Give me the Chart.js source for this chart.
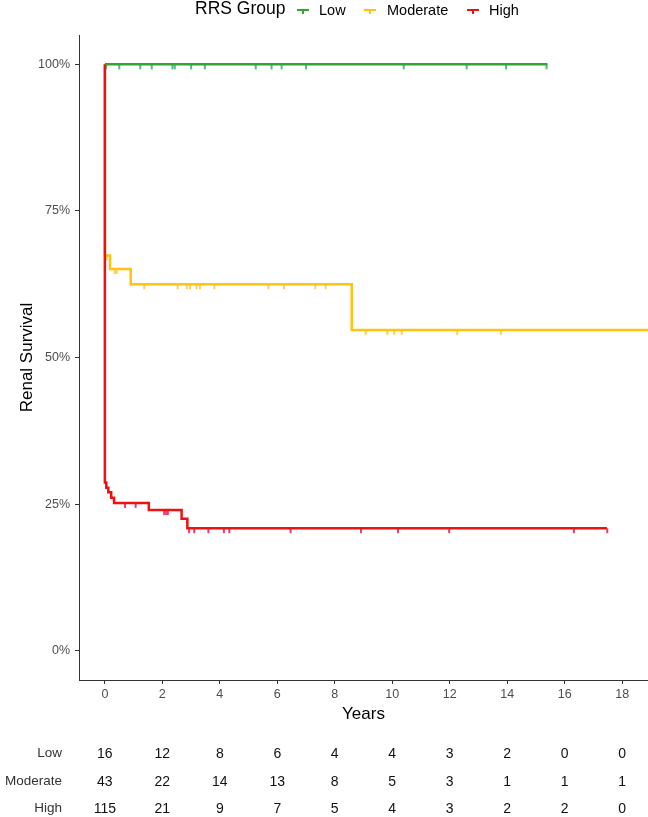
<!DOCTYPE html>
<html>
<head>
<meta charset="utf-8">
<script src="https://cdn.jsdelivr.net/npm/chart.js@4.4.1/dist/chart.umd.min.js"></script>
<style>
html, body { margin: 0; padding: 0; background: #fff; overflow: hidden; }
#wrap { position: relative; width: 648px; height: 817px; overflow: hidden; font-family: "Liberation Sans", Arial, sans-serif; }
#chart { position: absolute; left: 0; top: 0; }
.lg { position: absolute; white-space: nowrap; line-height: 1; transform: translateY(-50%); color: #000; }
.sym { position: absolute; width: 12px; height: 2px; }
.sym i { position: absolute; left: 5px; top: 2px; width: 2px; height: 3px; }
.cell { position: absolute; white-space: nowrap; line-height: 1; transform: translate(-50%, -50%); font-size: 14px; color: #111; }
.rowlab { position: absolute; white-space: nowrap; line-height: 1; transform: translateY(-50%); font-size: 13.5px; color: #333; text-align: right; }
</style>
</head>
<body>
<div id="wrap">
  <canvas id="chart" width="653" height="817"></canvas>
</div>
<script>
// ---------------- data ----------------
const groups = ['Low', 'Moderate', 'High'];
const groupColors = ['#33A532', '#FFC20E', '#EE1111'];
const censorColors = ['rgba(70,185,130,0.95)', 'rgba(255,205,80,0.95)', 'rgba(240,50,100,0.95)'];

const years = [0, 2, 4, 6, 8, 10, 12, 14, 16, 18];
const yTicks = [0, 0.25, 0.5, 0.75, 1];

// KM step curves (time, survival after event)
const lowTimes = [0, 15.4];
const lowSurv  = [1, 1];
const modTimes = [0, 0, 0.18, 0.9, 8.59, 18.9];
const modSurv  = [1, 0.674, 0.651, 0.625, 0.547, 0.547];
const highTimes = [0, 0, 0.05, 0.12, 0.22, 0.32, 1.53, 2.67, 2.87, 17.47];
const highSurv  = [1, 0.287, 0.278, 0.270, 0.261, 0.252, 0.240, 0.225, 0.209, 0.209];

// censoring times
const lowCensor = [0.04, 0.5, 1.23, 1.63, 2.35, 2.43, 3.0, 3.48, 5.25, 5.8, 6.15, 7.0, 10.4, 12.59, 13.96, 15.37];
const modCensor = [0.06, 0.34, 0.41, 1.37, 2.53, 2.85, 2.96, 3.19, 3.31, 3.81, 5.69, 6.23, 7.32, 7.68, 9.07, 9.83, 10.07, 10.33, 12.26, 13.78];
const highCensor = [0.7, 1.07, 2.06, 2.13, 2.19, 2.93, 3.11, 3.6, 4.14, 4.33, 6.46, 8.91, 10.2, 11.98, 16.32, 17.48];

// numbers at risk
const riskLow  = [16, 12, 8, 6, 4, 4, 3, 2, 0, 0];
const riskMod  = [43, 22, 14, 13, 8, 5, 3, 1, 1, 1];
const riskHigh = [115, 21, 9, 7, 5, 4, 3, 2, 2, 0];

// ---------------- helpers ----------------
function survAt(times, surv, t) {
    let s = surv[0];
    for (let i = 0; i < times.length; i++) { if (times[i] <= t) s = surv[i]; }
    return s;
}
function pts(times, surv) { return times.map((t, i) => ({ x: t, y: surv[i] })); }
function censorPts(ct, times, surv) { return ct.map(t => ({ x: t, y: survAt(times, surv, t) })); }
function tickImg(color) {
    const c = document.createElement('canvas');
    c.width = 4; c.height = 14;
    const g = c.getContext('2d');
    g.fillStyle = color;
    g.fillRect(1, 7, 2, 5);
    return c;
}

const FONT = '"Liberation Sans", Arial, sans-serif';

function curve(label, times, surv, color, order) {
    return { type: 'line', label: label, data: pts(times, surv), stepped: 'before', borderColor: color,
             borderWidth: 2.5, pointRadius: 0, fill: false, order: order, borderCapStyle: 'butt' };
}
function censor(label, ct, times, surv, color, order) {
    return { type: 'scatter', label: label, data: censorPts(ct, times, surv), pointStyle: tickImg(color),
             pointRadius: 4, showLine: false, order: order };
}

// ---------------- chart ----------------
const chart = new Chart(document.getElementById('chart'), {
    type: 'line',
    data: {
        datasets: [
            curve('High', highTimes, highSurv, groupColors[2], 0),
            curve('Moderate', modTimes, modSurv, groupColors[1], 1),
            curve('Low', lowTimes, lowSurv, groupColors[0], 2),
            censor('High censor', highCensor, highTimes, highSurv, censorColors[2], 3),
            censor('Moderate censor', modCensor, modTimes, modSurv, censorColors[1], 4),
            censor('Low censor', lowCensor, lowTimes, lowSurv, censorColors[0], 5)
        ]
    },
    options: {
        responsive: false,
        animation: false,
        layout: { padding: { top: 35, bottom: 92, left: 0, right: 0 } },
        plugins: { legend: { display: false }, tooltip: { enabled: false } },
        scales: {
            x: {
                type: 'linear', min: -0.9, max: 18.9,
                afterBuildTicks: s => { s.ticks = years.map(v => ({ value: v })); },
                afterFit: s => { s.height = 45; },
                ticks: { color: '#4D4D4D', font: { family: FONT, size: 12.5 }, padding: 3 },
                grid: { drawOnChartArea: false, drawTicks: true, tickLength: 4, color: '#333', tickWidth: 1 },
                border: { display: true, color: '#333', width: 1 },
                title: { display: true, text: 'Years', color: '#000', font: { family: FONT, size: 17 }, padding: { top: 0, bottom: 0 } }
            },
            y: {
                type: 'linear', min: -0.05, max: 1.05,
                afterBuildTicks: s => { s.ticks = yTicks.map(v => ({ value: v })); },
                afterFit: s => { s.width = 79; },
                ticks: { color: '#4D4D4D', font: { family: FONT, size: 12.5 }, padding: 5,
                         callback: v => Math.round(v * 100) + '%' },
                grid: { drawOnChartArea: false, drawTicks: true, tickLength: 4, color: '#333', tickWidth: 1 },
                border: { display: true, color: '#333', width: 1 },
                title: { display: true, text: 'Renal Survival', color: '#000', font: { family: FONT, size: 17 }, padding: { top: 17, bottom: 0 } }
            }
        }
    }
});

// ---------------- legend (top) ----------------
const wrap = document.getElementById('wrap');
function addText(cls, text, left, top, size, extra) {
    const d = document.createElement('div');
    d.className = cls;
    d.textContent = text;
    d.style.left = left + 'px';
    d.style.top = top + 'px';
    if (size) d.style.fontSize = size + 'px';
    if (extra) Object.assign(d.style, extra);
    wrap.appendChild(d);
    return d;
}
addText('lg', 'RRS Group', 195, 9, 17.5);
const legendSymX = [297, 364, 467];
const legendTextX = [319, 387, 489];
groups.forEach((g, i) => {
    const s = document.createElement('div');
    s.className = 'sym';
    s.style.left = legendSymX[i] + 'px';
    s.style.top = '9px';
    s.style.background = groupColors[i];
    const tk = document.createElement('i');
    tk.style.background = groupColors[i];
    s.appendChild(tk);
    wrap.appendChild(s);
    addText('lg', g, legendTextX[i], 10, 14.5);
});

// ---------------- risk table ----------------
const riskRows = [riskLow, riskMod, riskHigh];
const rowY = [753, 781, 808];
const xs = chart.scales.x;
riskRows.forEach((row, r) => {
    addText('rowlab', groups[r], 0, rowY[r], null, { width: '62px' });
    row.forEach((n, j) => {
        addText('cell', String(n), xs.getPixelForValue(years[j]), rowY[r]);
    });
});
</script>
</body>
</html>
